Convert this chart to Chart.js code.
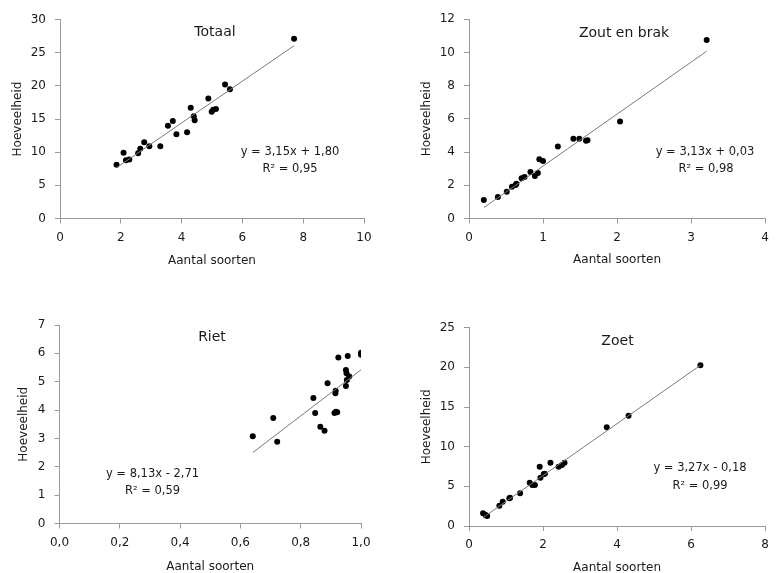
<!DOCTYPE html>
<html>
<head>
<meta charset="utf-8">
<script src="https://cdn.jsdelivr.net/npm/chart.js@4.4.1/dist/chart.umd.min.js"></script>
<style>
  html, body { margin: 0; padding: 0; background: #fff; width: 776px; height: 573px; overflow: hidden; }
  .panel { position: absolute; }
  canvas { display: block; }
</style>
</head>
<body>
<div class="panel" id="p0"><canvas id="c0"></canvas></div>
<div class="panel" id="p1"><canvas id="c1"></canvas></div>
<div class="panel" id="p2"><canvas id="c2"></canvas></div>
<div class="panel" id="p3"><canvas id="c3"></canvas></div>
<script>
// ---- Data: aantal soorten (x) tegen hoeveelheid (y) per watertype ----
const totaalX = [1.86, 2.09, 2.17, 2.28, 2.57, 2.64, 2.77, 2.94, 3.30, 3.55, 3.71, 3.83, 4.18, 4.30, 4.40, 4.43, 4.88, 4.99, 5.04, 5.13, 5.43, 5.59, 7.70];
const totaalY = [8.1, 9.9, 8.8, 8.9, 9.85, 10.5, 11.5, 10.9, 10.9, 14.0, 14.7, 12.7, 13.0, 16.7, 15.4, 14.8, 18.1, 16.1, 16.4, 16.5, 20.2, 19.5, 27.1];

const zoutX = [0.20, 0.39, 0.51, 0.58, 0.63, 0.64, 0.71, 0.75, 0.83, 0.89, 0.93, 0.95, 1.00, 1.20, 1.41, 1.49, 1.58, 1.60, 2.04, 3.21];
const zoutY = [1.11, 1.29, 1.61, 1.92, 2.02, 2.10, 2.42, 2.50, 2.80, 2.56, 2.74, 3.57, 3.47, 4.34, 4.80, 4.80, 4.68, 4.72, 5.84, 10.75];

const rietX = [0.641, 0.709, 0.722, 0.842, 0.848, 0.865, 0.879, 0.889, 0.915, 0.916, 0.912, 0.917, 0.921, 0.925, 0.956, 0.950, 0.952, 0.953, 0.961, 0.950, 1.000, 1.000];
const rietY = [3.08, 3.72, 2.88, 4.43, 3.90, 3.41, 3.27, 4.95, 4.59, 4.68, 3.90, 3.94, 3.92, 5.85, 5.91, 5.41, 5.30, 5.06, 5.18, 4.85, 6.02, 5.95];

const zoetX = [0.38, 0.45, 0.49, 0.82, 0.91, 1.09, 1.11, 1.38, 1.64, 1.71, 1.78, 1.91, 1.93, 2.02, 2.05, 2.20, 2.42, 2.51, 2.58, 3.72, 4.31, 6.25];
const zoetY = [1.60, 1.39, 1.26, 2.56, 3.07, 3.49, 3.55, 4.12, 5.46, 5.17, 5.17, 7.48, 6.09, 6.56, 6.60, 7.98, 7.48, 7.69, 7.98, 12.44, 13.90, 20.26];

// Panel titles and the linear trend (y = a·x + b) with its R²
const panelTitles = ['Totaal', 'Zout en brak', 'Riet', 'Zoet'];
const slopes = [3.15, 3.13, 8.13, 3.27];
const intercepts = [1.80, 0.03, -2.71, -0.18];
const rSquared = [0.95, 0.98, 0.59, 0.99];

// Axis ranges and tick steps
const xMax = [10, 4, 1.0, 8];
const xStep = [2, 1, 0.2, 2];
const xDecimals = [0, 0, 1, 0];
const yMax = [30, 12, 7, 25];
const yStep = [5, 2, 1, 5];

const xTitle = 'Aantal soorten';
const yTitle = 'Hoeveelheid';

const seriesX = [totaalX, zoutX, rietX, zoetX];
const seriesY = [totaalY, zoutY, rietY, zoetY];

// ---- Layout (page pixels) ----
const FONT = 'DejaVu Sans';
const TXT = '#1a1a1a';
const AXIS = '#9a9a9a';
const layout = [
  { rect: { x: 0,   y: 0,   w: 388, h: 286 }, area: { l: 60,  t: 19.5,  r: 364,   b: 218.5 }, yTitleMid: 17.8,  xTitleMid: 261,
    title: { x: 215, y: 36 },    eq: { x: 290, y: 155 }, r2: { x: 290, y: 172 } },
  { rect: { x: 388, y: 0,   w: 388, h: 286 }, area: { l: 469, t: 19.3,  r: 770.5, b: 218.5 }, yTitleMid: 427.2, xTitleMid: 259.5,
    title: { x: 624, y: 36.5 },  eq: { x: 705, y: 155 }, r2: { x: 706, y: 172 } },
  { rect: { x: 0,   y: 286, w: 388, h: 300 }, area: { l: 59.5, t: 325,  r: 361,   b: 523.5 }, yTitleMid: 23.8,  xTitleMid: 566.5,
    title: { x: 212, y: 340.5 }, eq: { x: 152.5, y: 477 }, r2: { x: 152.5, y: 494 } },
  { rect: { x: 388, y: 286, w: 388, h: 300 }, area: { l: 469, t: 327.7, r: 770.5, b: 526 },   yTitleMid: 427.2, xTitleMid: 567.5,
    title: { x: 617.5, y: 345 }, eq: { x: 700, y: 471 }, r2: { x: 700, y: 489 } }
];

const fmt = (v, d) => v.toFixed(d).replace('.', ',');

// Draws the panel title and the trend equation inside the plot
const panelText = {
  id: 'panelText',
  afterDatasetsDraw(chart, args, opts) {
    const ctx = chart.ctx;
    ctx.save();
    ctx.fillStyle = TXT;
    ctx.textAlign = 'center';
    ctx.textBaseline = 'alphabetic';
    ctx.font = `14px "${FONT}"`;
    ctx.fillText(opts.title, opts.titlePos.x, opts.titlePos.y);
    ctx.font = `11.5px "${FONT}"`;
    ctx.fillText(opts.eqText, opts.eqPos.x, opts.eqPos.y);
    ctx.fillText(opts.r2Text, opts.r2Pos.x, opts.r2Pos.y);
    ctx.restore();
  }
};

for (let i = 0; i < 4; i++) {
  const L = layout[i];
  const R = L.rect;
  const div = document.getElementById('p' + i);
  div.style.left = R.x + 'px';
  div.style.top = R.y + 'px';
  div.style.width = R.w + 'px';
  div.style.height = R.h + 'px';
  const canvas = document.getElementById('c' + i);
  canvas.width = R.w;
  canvas.height = R.h;

  const xs = seriesX[i], ys = seriesY[i];
  const points = xs.map((x, k) => ({ x, y: ys[k] }));
  const x0 = Math.min(...xs), x1 = Math.max(...xs);
  const a = slopes[i], b = intercepts[i];
  const trend = [{ x: x0, y: a * x0 + b }, { x: x1, y: a * x1 + b }];

  const eqText = `y = ${fmt(a, 2)}x ${b < 0 ? '-' : '+'} ${fmt(Math.abs(b), 2)}`;
  const r2Text = `R\u00B2 = ${fmt(rSquared[i], 2)}`;

  const yAxisWidth = L.area.l - R.x;
  const xAxisHeight = R.y + R.h - L.area.b;
  const lh = 12 * 1.2;

  const rel = p => ({ x: p.x - R.x, y: p.y - R.y });

  new Chart(canvas, {
    type: 'scatter',
    data: {
      datasets: [
        {
          type: 'line',
          data: trend,
          showLine: true,
          borderColor: '#7a7a7a',
          borderWidth: 1,
          pointRadius: 0,
          fill: false,
          order: 0
        },
        {
          data: points,
          pointRadius: 3,
          pointBackgroundColor: '#000',
          pointBorderWidth: 0,
          order: 1
        }
      ]
    },
    options: {
      responsive: false,
      animation: false,
      devicePixelRatio: 1,
      layout: { padding: { left: 0, top: L.area.t - R.y, right: R.x + R.w - L.area.r, bottom: 0 } },
      plugins: {
        legend: { display: false },
        tooltip: { enabled: false },
        panelText: {
          title: panelTitles[i],
          titlePos: rel(L.title),
          eqText, r2Text,
          eqPos: rel(L.eq),
          r2Pos: rel(L.r2)
        }
      },
      scales: {
        x: {
          type: 'linear',
          min: 0, max: xMax[i],
          border: { color: AXIS, width: 1 },
          grid: { display: true, drawOnChartArea: false, drawTicks: true, tickLength: 5, color: AXIS },
          ticks: {
            stepSize: xStep[i], padding: 7, color: TXT,
            font: { family: FONT, size: 12 },
            maxRotation: 0, autoSkip: false,
            callback: v => fmt(v, xDecimals[i])
          },
          title: {
            display: true, text: xTitle, color: TXT,
            font: { family: FONT, size: 12 },
            padding: { top: 0, bottom: (R.y + R.h) - L.xTitleMid - lh / 2 }
          },
          afterFit: s => { s.height = xAxisHeight; }
        },
        y: {
          type: 'linear',
          min: 0, max: yMax[i],
          border: { color: AXIS, width: 1 },
          grid: { display: true, drawOnChartArea: false, drawTicks: true, tickLength: 5, color: AXIS },
          ticks: {
            stepSize: yStep[i], padding: 9, color: TXT,
            font: { family: FONT, size: 12 },
            autoSkip: false,
            callback: v => fmt(v, 0)
          },
          title: {
            display: true, text: yTitle, color: TXT,
            font: { family: FONT, size: 12 },
            padding: { top: L.yTitleMid - R.x - lh / 2, bottom: 0 }
          },
          afterFit: s => { s.width = yAxisWidth; }
        }
      }
    },
    plugins: [panelText]
  });
}
</script>
</body>
</html>
